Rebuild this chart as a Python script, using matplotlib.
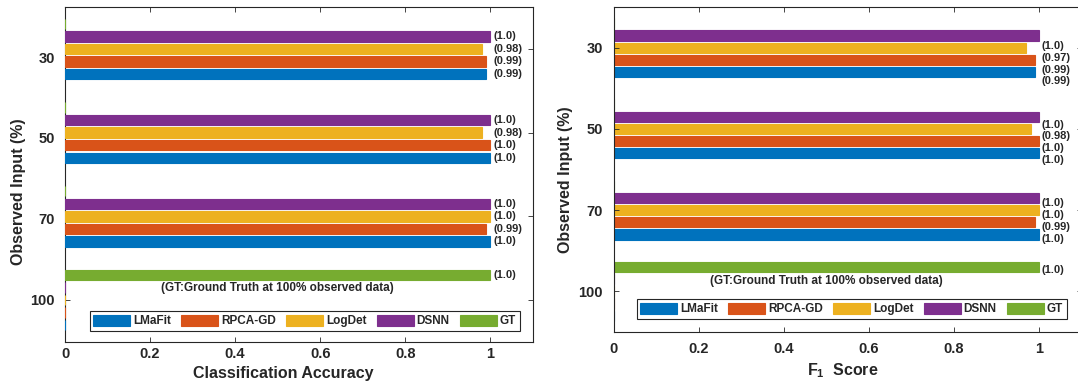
import matplotlib
matplotlib.use('Agg')
import matplotlib.pyplot as plt
import numpy as np
from matplotlib.transforms import ScaledTranslation

plt.rcParams['font.family'] = ['Liberation Sans', 'DejaVu Sans']
plt.rcParams['font.weight'] = 'bold'
plt.rcParams['axes.labelweight'] = 'bold'
plt.rcParams['mathtext.fontset'] = 'custom'
plt.rcParams['mathtext.rm'] = 'Liberation Sans:bold'
plt.rcParams['mathtext.bf'] = 'Liberation Sans:bold'
plt.rcParams['mathtext.it'] = 'Liberation Sans:bold'
INK = '#262626'
plt.rcParams['text.color'] = INK
plt.rcParams['axes.labelcolor'] = INK
plt.rcParams['xtick.color'] = INK
plt.rcParams['ytick.color'] = INK

# ---- data -------------------------------------------------------------
observed = ['30', '50', '70', '100']
methods = ['LMaFit', 'RPCA-GD', 'LogDet', 'DSNN', 'GT']
colors = ['#0072BD', '#D95319', '#EDB120', '#7E2F8E', '#77AC30']

acc_lmafit = [0.99, 1.0, 1.0, 0]
acc_rpcagd = [0.99, 1.0, 0.99, 0]
acc_logdet = [0.98, 0.98, 1.0, 0]
acc_dsnn = [1.0, 1.0, 1.0, 0]
acc_gt = [0, 0, 0, 1.0]

f1_lmafit = [0.99, 1.0, 1.0, 0]
f1_rpcagd = [0.99, 1.0, 0.99, 0]
f1_logdet = [0.97, 0.98, 1.0, 0]
f1_dsnn = [1.0, 1.0, 1.0, 0]
f1_gt = [0, 0, 0, 1.0]

xticks = [0, 0.2, 0.4, 0.6, 0.8, 1]
xtick_labels = ['0', '0.2', '0.4', '0.6', '0.8', '1']
gt_note = '(GT:Ground Truth at 100% observed data)'

W, H = 1078, 383
fig = plt.figure(figsize=(W / 100, H / 100), dpi=100)


def draw_panel(ax, series, xlabel, value_y, bar_z, xpad, ypad, tick_drop,
               note_y, legend_anchor, xlabel_pos, ylabel_pos):
    y = np.arange(len(observed))
    slot = 0.15
    handles = []
    for k, (vals, name, c) in enumerate(zip(series, methods, colors)):
        pos = y + (2 - k) * slot
        h = ax.barh(pos, vals, height=0.125, color=c, edgecolor=c,
                    linewidth=0.8, label=name, zorder=bar_z)
        handles.append(h)
        for p, v in zip(pos, vals):
            if v > 0:
                ax.text(1.006, value_y(p), f'({v})', fontsize=8,
                        ha='left', va='center', zorder=4)

    ax.set_xlim(0, 1.1)
    ax.set_ylim(3.5, -0.5)
    ax.set_xticks(xticks)
    ax.set_xticklabels(xtick_labels)
    ax.set_yticks(y)
    ax.set_yticklabels(observed)
    ax.tick_params(axis='both', direction='in', length=3.4, width=0.6,
                   top=True, right=True, labelsize=10.5)
    ax.tick_params(axis='x', pad=xpad)
    ax.tick_params(axis='y', pad=ypad)
    for lab, d in zip(ax.get_yticklabels(), tick_drop):
        lab.set_transform(lab.get_transform() +
                          ScaledTranslation(0, -d / 100, fig.dpi_scale_trans))
    for sp in ax.spines.values():
        sp.set_color(INK)
        sp.set_linewidth(0.8)

    ax.text(0.5, note_y, gt_note, fontsize=8.5, ha='center', va='center')

    leg = ax.legend(handles, methods, ncol=5, loc='lower left',
                    bbox_to_anchor=legend_anchor, borderaxespad=0,
                    prop={'size': 8.5, 'weight': 'bold'},
                    handlelength=3.1, handleheight=1.1, handletextpad=0.25,
                    columnspacing=0.9, borderpad=0.3, fancybox=False,
                    framealpha=1, edgecolor=INK)
    leg.get_frame().set_linewidth(0.8)

    ax.set_xlabel(xlabel, fontsize=11.5)
    ax.xaxis.label.set_verticalalignment('center')
    ax.xaxis.set_label_coords(*xlabel_pos)
    ax.set_ylabel('Observed Input (%)', fontsize=11.5)
    ax.yaxis.label.set_verticalalignment('center')
    ax.yaxis.set_label_coords(*ylabel_pos)


# left: classification accuracy
ax1 = fig.add_axes([65 / W, 41 / H, 468 / W, 335 / H])
draw_panel(ax1, [acc_lmafit, acc_rpcagd, acc_logdet, acc_dsnn, acc_gt],
           'Classification Accuracy', value_y=lambda p: p, bar_z=3,
           xpad=3.6, ypad=7.2, tick_drop=[8.3, 5.2, 2.1, -1.0],
           note_y=2.86, legend_anchor=(0.053, 0.033),
           xlabel_pos=(0.466, -0.095), ylabel_pos=(-0.10, 0.449))

# right: F1 score
ax2 = fig.add_axes([614 / W, 51 / H, 467.5 / W, 325 / H])
draw_panel(ax2, [f1_lmafit, f1_rpcagd, f1_logdet, f1_dsnn, f1_gt],
           r'F${}_{1}$  Score', value_y=lambda p: 0.124 + 0.969 * p, bar_z=1,
           xpad=7.2, ypad=7.9, tick_drop=[0, 0, 0, 0],
           note_y=2.874, legend_anchor=(0.049, 0.04),
           xlabel_pos=(0.49, -0.12), ylabel_pos=(-0.103, 0.47))

fig.savefig('out.png', dpi=100)
